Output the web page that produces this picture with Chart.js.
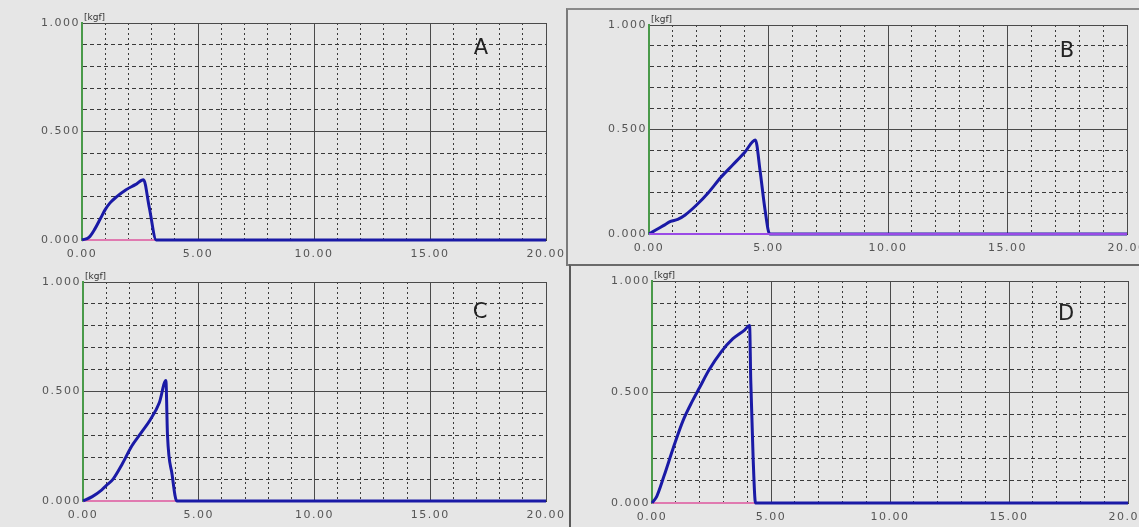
<!DOCTYPE html>
<html><head><meta charset="utf-8">
<script src="https://cdn.jsdelivr.net/npm/chart.js@4.4.0/dist/chart.umd.min.js"></script>
<style>
html,body{margin:0;padding:0;width:1139px;height:527px;overflow:hidden;background:#e6e6e6;font-family:"DejaVu Sans",sans-serif;}
.box{position:absolute;}
canvas{display:block}
.letter{position:absolute;font-family:"DejaVu Sans",sans-serif;font-size:21px;color:#222;transform:translate(-50%,-50%);line-height:1;}
.unit{position:absolute;font-size:9px;color:#333;line-height:1;}
.frame{position:absolute;}
</style></head><body>
<div class="frame" style="left:566px;top:8px;width:600px;height:254px;border-left:2px solid #7a7a7a;border-top:2px solid #8a8a8a;border-bottom:2px solid #7a7a7a;"></div>
<div class="frame" style="left:569px;top:264px;width:600px;height:300px;border-left:2px solid #5a5a5a;border-top:2px solid #6a6a6a;"></div>
<script>
// ---- data ----
const panelNames = ['A', 'B', 'C', 'D'];
const unitLabel = '[kgf]';
const xTickLabels = ['0.00', '5.00', '10.00', '15.00', '20.00'];
const yTickLabels = ['0.000', '0.500', '1.000'];

const dispA  = [0, 0.3, 0.55, 0.8, 1.0, 1.2, 1.5, 1.9, 2.3, 2.65, 2.9, 3.2, 20];
const forceA = [0, 0.012, 0.05, 0.1, 0.14, 0.17, 0.2, 0.232, 0.255, 0.278, 0.15, 0, 0];

const dispB  = [0, 0.3, 0.6, 0.9, 1.2, 1.5, 2.0, 2.5, 3.0, 3.5, 4.0, 4.45, 4.65, 4.85, 5.05, 20];
const forceB = [0, 0.02, 0.04, 0.06, 0.07, 0.09, 0.14, 0.2, 0.27, 0.33, 0.39, 0.45, 0.3, 0.12, 0, 0];

const dispC  = [0, 0.4, 0.8, 1.0, 1.3, 1.7, 2.1, 2.5, 2.9, 3.3, 3.58, 3.65, 3.85, 4.05, 20];
const forceC = [0, 0.02, 0.05, 0.07, 0.1, 0.17, 0.25, 0.31, 0.37, 0.45, 0.55, 0.3, 0.12, 0, 0];

const dispD  = [0, 0.2, 0.5, 0.9, 1.3, 1.7, 2.0, 2.4, 2.9, 3.4, 3.9, 4.1, 4.15, 4.25, 4.35, 20];
const forceD = [0, 0.03, 0.12, 0.25, 0.37, 0.46, 0.52, 0.6, 0.68, 0.74, 0.78, 0.8, 0.55, 0.2, 0, 0];

// baseline (zero-load) trace end per panel
const baseEndA = [0, 3.2];
const baseEndB = [0, 20];
const baseEndC = [0, 4.05];
const baseEndD = [0, 4.35];
const baseZero = [0, 0];

const xMin = 0, xMax = 20, yMin = 0, yMax = 1;

// ---- layout ----
const panels = [
  {name: panelNames[0], xs: dispA, ys: forceA, bx: baseEndA, baseColor: '#e07ab0', plot: {l: 82, t: 23, w: 464, h: 217}, letter: [481, 47]},
  {name: panelNames[1], xs: dispB, ys: forceB, bx: baseEndB, baseColor: '#9a4ae6', plot: {l: 649, t: 25, w: 478, h: 209}, letter: [1067, 50]},
  {name: panelNames[2], xs: dispC, ys: forceC, bx: baseEndC, baseColor: '#e07ab0', plot: {l: 83, t: 282, w: 463, h: 219}, letter: [480, 311]},
  {name: panelNames[3], xs: dispD, ys: forceD, bx: baseEndD, baseColor: '#e07ab0', plot: {l: 652, t: 281, w: 476, h: 222}, letter: [1066, 313]}
];

const YW = 70, XH = 30, PT = 15, PR = 30;
const isMajorX = v => Math.abs(v / 5 - Math.round(v / 5)) < 1e-6;
const isMajorY = v => Math.abs(v * 2 - Math.round(v * 2)) < 1e-6;

const spacingPlugin = {
  id: 'spacing',
  beforeDraw(chart) { try { chart.ctx.letterSpacing = '1.5px'; } catch (e) {} }
};

panels.forEach(p => {
  const box = document.createElement('div');
  box.className = 'box';
  const W = p.plot.w + YW + PR, H = p.plot.h + PT + XH;
  box.style.left = (p.plot.l - YW) + 'px';
  box.style.top = (p.plot.t - PT) + 'px';
  box.style.width = W + 'px';
  box.style.height = H + 'px';
  const cv = document.createElement('canvas');
  cv.width = W; cv.height = H;
  cv.style.width = W + 'px'; cv.style.height = H + 'px';
  box.appendChild(cv);
  document.body.appendChild(box);

  const letter = document.createElement('div');
  letter.className = 'letter';
  letter.textContent = p.name;
  letter.style.left = p.letter[0] + 'px';
  letter.style.top = p.letter[1] + 'px';
  document.body.appendChild(letter);

  const unit = document.createElement('div');
  unit.className = 'unit';
  unit.textContent = unitLabel;
  unit.style.left = (p.plot.l + 2) + 'px';
  unit.style.top = (p.plot.t - 10) + 'px';
  document.body.appendChild(unit);

  const curve = p.xs.map((x, i) => ({x: x, y: p.ys[i]}));
  const base = p.bx.map((x, i) => ({x: x, y: baseZero[i]}));

  new Chart(cv, {
    type: 'scatter',
    data: {
      datasets: [
        {data: base, showLine: true, borderColor: p.baseColor, borderWidth: 2, pointRadius: 0, clip: false, order: p.name === 'B' ? 0 : 2},
        {data: curve, showLine: true, borderColor: '#1a1aa6', borderWidth: 3, pointRadius: 0, clip: false,
         cubicInterpolationMode: 'monotone', order: 1}
      ]
    },
    plugins: [spacingPlugin],
    options: {
      responsive: false, animation: false, events: [], devicePixelRatio: 1,
      layout: {padding: {left: 0, top: PT, right: PR, bottom: 0}},
      plugins: {legend: {display: false}, tooltip: {enabled: false}},
      scales: {
        x: {
          type: 'linear', min: xMin, max: xMax,
          afterFit(s) { s.height = XH; },
          ticks: {
            stepSize: 1, autoSkip: false, maxRotation: 0, minRotation: 0, padding: 8,
            color: '#555', font: {family: 'DejaVu Sans', size: 11},
            callback: v => isMajorX(v) ? xTickLabels[Math.round(v / 5)] : ''
          },
          grid: {
            drawTicks: false, lineWidth: 1,
            color: c => (c.tick && isMajorX(c.tick.value)) ? '#4a4a4a' : '#3a3a3a'
          },
          border: {display: true, color: '#333', width: 1,
            dash: c => (c.tick && !isMajorX(c.tick.value)) ? [2, 3] : []}
        },
        y: {
          min: yMin, max: yMax,
          afterFit(s) { s.width = YW; },
          ticks: {
            stepSize: 0.1, autoSkip: false, padding: 2,
            color: '#555', font: {family: 'DejaVu Sans', size: 11},
            callback: v => isMajorY(v) ? yTickLabels[Math.round(v * 2)] : ''
          },
          grid: {
            drawTicks: false, lineWidth: 1,
            color: c => (c.tick && isMajorY(c.tick.value)) ? '#4a4a4a' : '#3a3a3a'
          },
          border: {display: true, color: '#4a9a4a', width: 2,
            dash: c => (c.tick && !isMajorY(c.tick.value)) ? [4, 3] : []}
        }
      }
    }
  });
});
</script>
</body></html>
